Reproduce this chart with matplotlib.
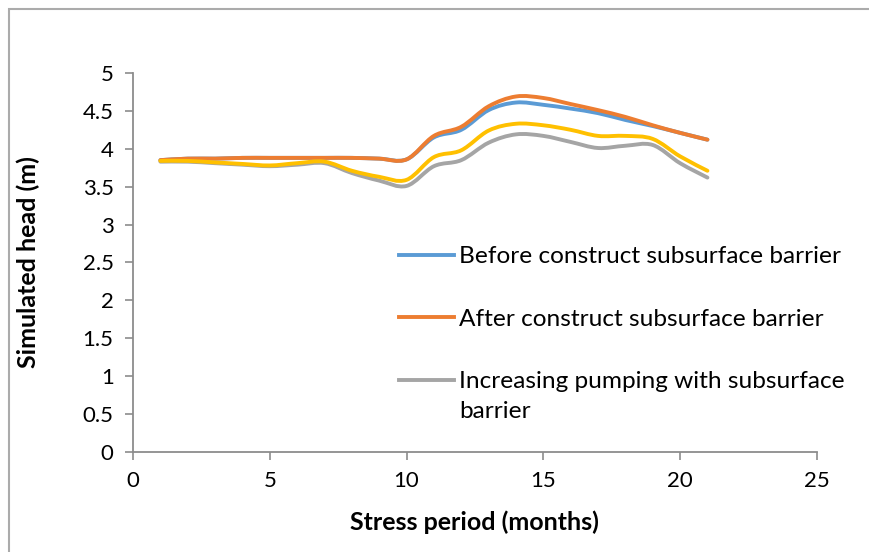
import numpy as np
import matplotlib
matplotlib.use("Agg")
import matplotlib.pyplot as plt
from matplotlib.path import Path
from matplotlib.patches import PathPatch, Rectangle
from matplotlib.lines import Line2D

plt.rcParams['font.family'] = ['Lato', 'DejaVu Sans']

# stress periods (months)
months = list(range(1, 22))

before_barrier = [3.85, 3.87, 3.87, 3.88, 3.88, 3.88, 3.88, 3.88, 3.87, 3.86,
                  4.15, 4.25, 4.51, 4.61, 4.58, 4.53, 4.47, 4.38, 4.30, 4.21, 4.12]
after_barrier = [3.85, 3.87, 3.87, 3.88, 3.88, 3.88, 3.88, 3.88, 3.87, 3.86,
                 4.17, 4.29, 4.56, 4.69, 4.67, 4.59, 4.51, 4.42, 4.31, 4.21, 4.12]
pumping_barrier = [3.83, 3.83, 3.81, 3.79, 3.77, 3.79, 3.81, 3.68, 3.58, 3.51,
                   3.77, 3.85, 4.08, 4.19, 4.17, 4.09, 4.01, 4.04, 4.05, 3.81, 3.62]
fourth_series = [3.84, 3.84, 3.82, 3.80, 3.78, 3.81, 3.83, 3.71, 3.63, 3.59,
                 3.89, 3.98, 4.24, 4.33, 4.31, 4.25, 4.17, 4.17, 4.13, 3.90, 3.71]

series = [
    ("Before construct subsurface barrier", before_barrier, "#5B9BD5", True),
    ("After construct subsurface barrier", after_barrier, "#ED7D31", True),
    ("Increasing pumping with subsurface", pumping_barrier, "#A5A5A5", True),
    ("Series 4", fourth_series, "#FFC000", False),
]


def smooth_path(x, y):
    # Excel-style smoothed line: cubic Bezier through every point
    pts = np.column_stack([x, y]).astype(float)
    n = len(pts)
    verts = [pts[0]]
    codes = [Path.MOVETO]
    for i in range(n - 1):
        p0 = pts[i - 1] if i > 0 else pts[i]
        p1 = pts[i]
        p2 = pts[i + 1]
        p3 = pts[i + 2] if i + 2 < n else pts[i + 1]
        c1 = p1 + (p2 - p0) / 6.0
        c2 = p2 - (p3 - p1) / 6.0
        verts += [c1, c2, p2]
        codes += [Path.CURVE4] * 3
    return Path(verts, codes)


fig = plt.figure(figsize=(8.7, 5.52), dpi=100)
ax = fig.add_axes([0.1529, 0.1812, 0.786, 0.6866])

handles = []
for label, vals, color, in_legend in series:
    patch = PathPatch(smooth_path(months, vals), facecolor='none', edgecolor=color,
                      lw=2.8, capstyle='round', joinstyle='round')
    ax.add_patch(patch)
    if in_legend:
        handles.append(Line2D([], [], color=color, lw=2.8, label=label))

ax.set_xlim(0, 25)
ax.set_ylim(0, 5)
ax.set_xticks(range(0, 26, 5))
ax.set_yticks(np.arange(0, 5.01, 0.5))
ax.set_yticklabels(['0', '0.5', '1', '1.5', '2', '2.5', '3', '3.5', '4', '4.5', '5'])

for side in ['top', 'right']:
    ax.spines[side].set_visible(False)
for side in ['left', 'bottom']:
    ax.spines[side].set_color('#8C8C8C')
    ax.spines[side].set_linewidth(1.3)
ax.tick_params(direction='out', length=6, width=1.2, color='#8C8C8C',
               labelsize=16, pad=8)

ax.set_xlabel("Stress period (months)", fontsize=18, fontweight='bold')
ax.set_ylabel("Simulated head (m)", fontsize=18, fontweight='bold')
ax.xaxis.set_label_coords(0.5, -0.185)
ax.yaxis.set_label_coords(-0.1535, 0.5)
ax.xaxis.label.set_va('center')
ax.yaxis.label.set_va('center')

leg = ax.legend(handles=handles, loc='upper left', bbox_to_anchor=(0.4585, 0.5544),
                bbox_transform=fig.transFigure, frameon=False, fontsize=17.6,
                handlelength=2.25, handletextpad=0.2, labelspacing=1.7,
                borderaxespad=0, borderpad=0)
# wrapped second line of the last legend entry (drawn after the legend)
ax.annotate("barrier", xy=(0, 0.5), xycoords=leg.get_texts()[2],
            xytext=(0, -21.6), textcoords='offset points',
            ha='left', va='center', fontsize=17.6, zorder=10,
            annotation_clip=False)

# chart area border
fig.patches.append(Rectangle((9 / 870, -0.1), 1.2, (552 - 9) / 552 + 0.1,
                             transform=fig.transFigure, fill=False,
                             edgecolor='#ABABAB', lw=1.5))

fig.savefig("out.png", dpi=100)
